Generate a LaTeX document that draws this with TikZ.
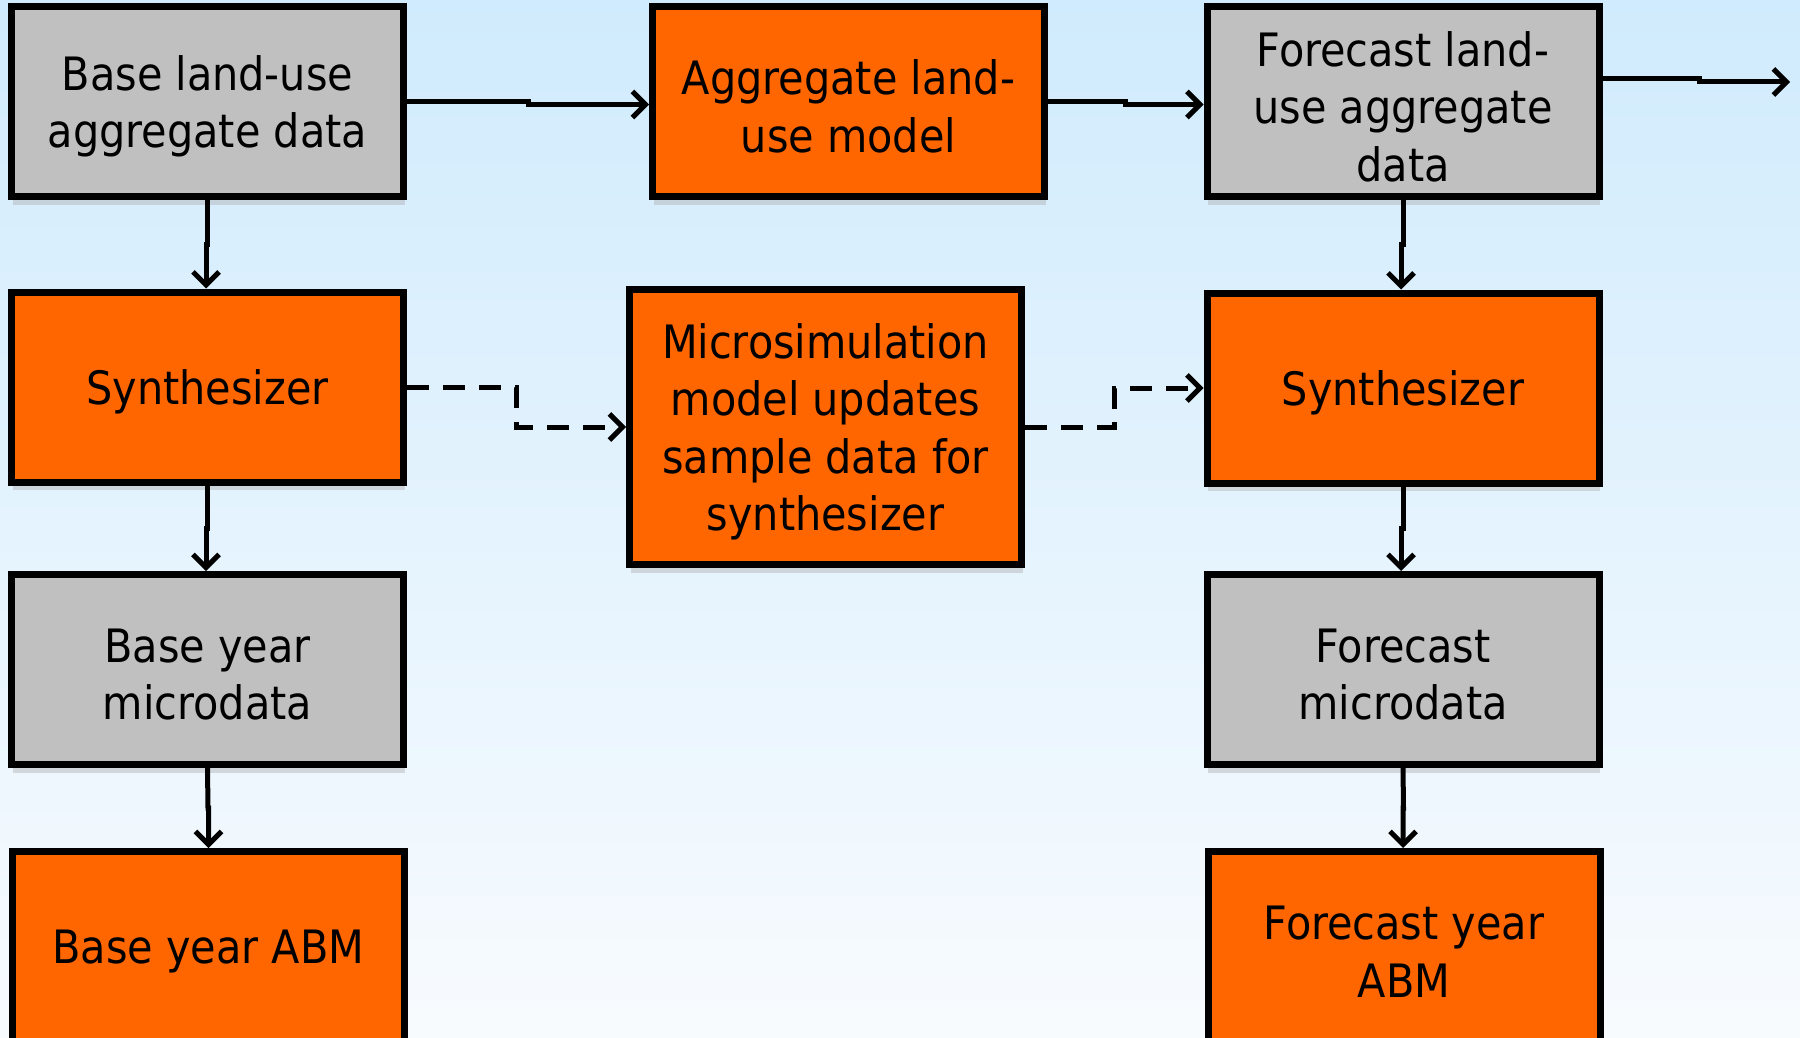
\documentclass[tikz,border=0pt]{standalone}
\usepackage{fontspec}
\setmainfont{DejaVu Sans Condensed}
\usetikzlibrary{arrows.meta,calc}
\definecolor{bgtop}{HTML}{D0EBFD}
\definecolor{bgbot}{HTML}{F8FBFE}
\definecolor{boxgray}{HTML}{C0C0C0}
\definecolor{boxorange}{HTML}{FF6600}
\begin{document}
\begin{tikzpicture}[x=1pt,y=-1pt,
  box/.style={draw=black, line width=7pt, minimum width=392pt, minimum height=190pt,
    inner sep=0pt,
    preaction={fill=black!30, opacity=0.45, transform canvas={xshift=1pt,yshift=-8pt}},
    label={[lbl]center:{#1}}},
  lbl/.style={align=center, inner sep=0pt, yshift=-5pt, font=\fontsize{46}{57.5}\selectfont},
  graybox/.style={box={#1}, fill=boxgray},
  orangebox/.style={box={#1}, fill=boxorange},
  conn/.style={line width=5pt, -{Straight Barb[length=13pt,width=26pt]}},
  dconn/.style={conn, dash pattern=on 22pt off 14pt}]
\useasboundingbox (0,0) rectangle (1800,1038);
\clip (0,0) rectangle (1800,1038);
\shade[top color=bgtop, bottom color=bgbot] (0,0) rectangle (1800,1038);

\node[graybox={Base land-use\\aggregate data}]          (b1)   at (207.5,101.5) {};
\node[orangebox={Aggregate land-\\use model}]           (agg)  at (848.5,101.5) {};
\node[graybox={Forecast land-\\use aggregate\\data}]    (fc)   at (1403,101.5)  {};
\node[orangebox={Synthesizer}]                          (s1)   at (207.5,387)   {};
\node[orangebox={Microsimulation\\model updates\\sample data for\\synthesizer}, minimum height=275pt] (micro) at (825.5,427) {};
\node[orangebox={Synthesizer}]                          (s2)   at (1403,388)    {};
\node[graybox={Base year\\microdata}]                   (bm)   at (207.5,669.5) {};
\node[graybox={Forecast\\microdata}]                    (fm)   at (1403,669.5)  {};
\node[orangebox={Base year ABM}]                        (babm) at (208.5,946.5) {};
\node[orangebox={Forecast year\\ABM}]                   (fabm) at (1404,946.5)  {};
\coordinate (out) at (1790,82);

\draw[conn] (b1.east) -- ($(b1.east)!.5!(agg.west)$) |- ($(agg.west)+(0,3)$);
\draw[conn] (agg.east) -- ($(agg.east)!.5!(fc.west)$) |- ($(fc.west)+(0,3)$);
\draw[conn] ($(fc.east)+(0,-22.5)$) -- ++(97,0) |- (out);

\draw[conn] (b1.south) -- ($(b1.south)!.5!(s1.north)$) -| ($(s1.north)+(-1.5,0)$);
\draw[conn] (s1.south) -- ($(s1.south)!.5!(bm.north)$) -| ($(bm.north)+(-1.5,0)$);
\draw[conn] (bm.south) -- ($(bm.south)!.5!(babm.north)$) -| (babm.north);
\draw[conn] (fc.south) -- ($(fc.south)!.5!(s2.north)$) -| ($(s2.north)+(-2,0)$);
\draw[conn] (s2.south) -- ($(s2.south)!.5!(fm.north)$) -| ($(fm.north)+(-2,0)$);
\draw[conn] (fm.south) -- ($(fm.south)!.5!(fabm.north)$) -| ($(fabm.north)+(-1,0)$);

\draw[dconn] (s1.east) -| ($(s1.east)!.5!(micro.west)$) |- (micro.west);
\draw[dconn] (micro.east) -| ($(micro.east)!.5!(s2.west)$) |- (s2.west);
\end{tikzpicture}
\end{document}
